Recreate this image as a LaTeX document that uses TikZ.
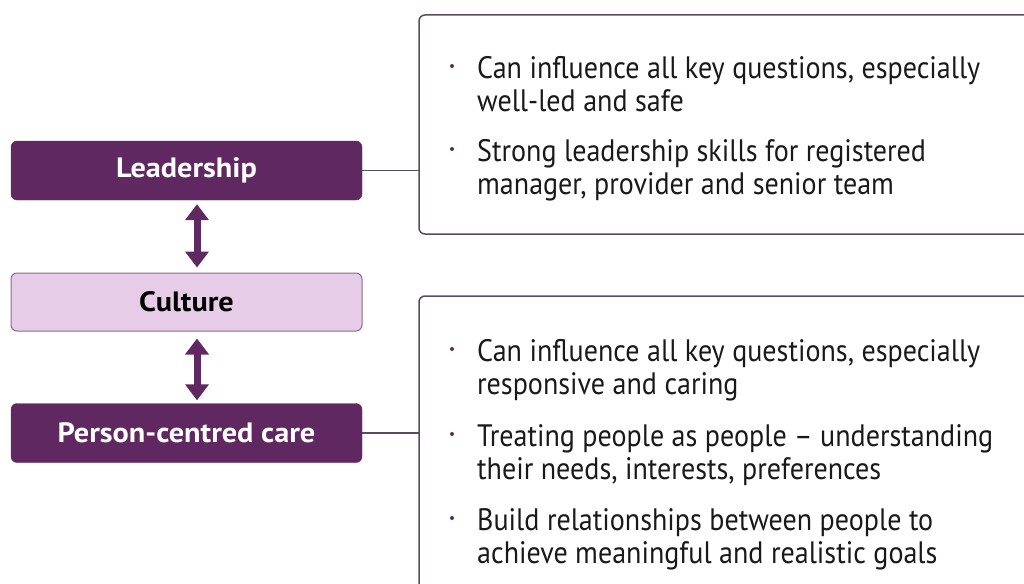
\documentclass[tikz,border=0pt]{standalone}
\usepackage{fontspec}
\setmainfont{PT Sans}
\usetikzlibrary{arrows.meta}
\definecolor{purp}{HTML}{5F2861}
\definecolor{lightpurp}{HTML}{E6CCE6}
\definecolor{framec}{HTML}{5E4A5E}
\newfontfamily\bodyfont[FakeStretch=0.905]{PT Sans}
\newfontfamily\labelfont[FakeStretch=1.08]{PT Sans}
\tikzset{
  darkbox/.style={draw=purp, fill=purp, rounded corners=6pt, minimum width=351pt, minimum height=59pt, inner sep=0pt, text=white, font=\labelfont\fontsize{28}{32}\selectfont\bfseries},
  lightbox/.style={draw=purp!70, line width=1pt, fill=lightpurp, rounded corners=6pt, minimum width=351pt, minimum height=58pt, inner sep=0pt, text=black, font=\labelfont\fontsize{28}{32}\selectfont\bfseries},
  infobox/.style={draw=framec, line width=1.5pt, rounded corners=6pt},
  bullettext/.style={anchor=north west, inner sep=0pt, align=left, font=\bodyfont\fontsize{31}{33}\selectfont, text=black!90},
  dbl/.style={purp, line width=7pt, {Triangle[width=23pt,length=16pt]}-{Triangle[width=23pt,length=16pt]}},
  link/.style={draw=framec, line width=1.2pt}
}
\begin{document}
\begin{tikzpicture}[x=1pt,y=-1pt]
\useasboundingbox (0,0) rectangle (1024,583);
% left boxes
\node[darkbox] (lead) at (186.5,170.5) {Leadership};
\node[lightbox] (cult) at (186.5,302) {Culture};
\node[darkbox] (pcc) at (186.5,433) {Person-centred care};
% arrows
\draw[dbl] ([xshift=10.5pt,yshift=-4pt]lead.south) -- ([xshift=10.5pt,yshift=5pt]cult.north);
\draw[dbl] ([xshift=10.5pt,yshift=-7pt]cult.south) -- ([xshift=10.5pt,yshift=3pt]pcc.north);
% right boxes
\draw[infobox] (419,15) rectangle (1040,234);
\coordinate (box1w) at (419,124);
\draw[infobox] (419,296) rectangle (1040,600);
\coordinate (box2w) at (419,440);
\draw[link] (lead.east) -- (lead.east -| box1w);
\draw[link] (pcc.east) -- (pcc.east -| box2w);
% bullet texts
\node[bullettext] (t1) at (477,56) {Can influence all key questions, especially\\well-led and safe};
\node[bullettext] (t2) at (477,139) {Strong leadership skills for registered\\manager, provider and senior team};
\node[bullettext] (t3) at (477,339) {Can influence all key questions, especially\\responsive and caring};
\node[bullettext] (t4) at (477,424) {Treating people as people – understanding\\their needs, interests, preferences};
\node[bullettext] (t5) at (477,508) {Build relationships between people to\\achieve meaningful and realistic goals};
% bullets
\foreach \t in {t1,t2,t3,t4,t5}{
  \fill[purp] ([xshift=-25pt,yshift=-10pt]\t.north west) circle (2pt);
}
\end{tikzpicture}
\end{document}
